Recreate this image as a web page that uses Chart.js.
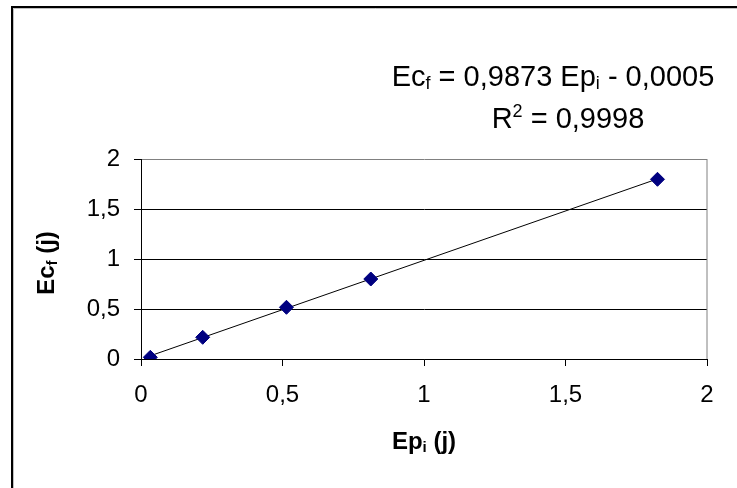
<!DOCTYPE html>
<html>
<head>
<meta charset="utf-8">
<script src="https://cdn.jsdelivr.net/npm/chart.js@4.4.0/dist/chart.umd.min.js"></script>
<style>
  html, body { margin: 0; padding: 0; background: #ffffff; }
  #wrap { position: relative; width: 737px; height: 488px; }
</style>
</head>
<body>
<div id="wrap"><canvas id="c" width="737" height="488"></canvas></div>
<script>
// ---- data ----
const epi = [0.033, 0.218, 0.514, 0.812, 1.825];   // Ep_i (j)
const ecf = [0.017, 0.217, 0.517, 0.800, 1.797];   // Ec_f (j)
const trendX = [0.033, 1.825];                     // trend line ends
const trendY = [0.032, 1.801];
const xTicks = [0, 0.5, 1, 1.5, 2];
const yTicks = [0, 0.5, 1, 1.5, 2];
const eqParts = [["Ec", ""], ["f", "sub"], [" = 0,9873 Ep", ""], ["i", "sub"], [" - 0,0005", ""]];
const r2Parts = [["R", ""], ["2", "sup"], [" = 0,9998", ""]];
const xTitleParts = [["Ep", ""], ["i", "sub"], [" (j)", ""]];
const yTitleParts = [["Ec", ""], ["f", "sub"], [" (j)", ""]];

const FONT = "'Liberation Sans', Arial, sans-serif";
const fmt = v => String(v).replace('.', ',');

function drawRich(ctx, parts, x, y, size, bold) {
  // x = center, y = baseline
  const w = bold ? 'bold ' : '';
  const pieces = parts.map(([t, kind]) => {
    const s = kind ? Math.round(size * 0.62) : size;
    ctx.font = w + s + 'px ' + FONT;
    return {t, kind, s, width: ctx.measureText(t).width};
  });
  const total = pieces.reduce((a, p) => a + p.width, 0);
  let cx = x - total / 2;
  ctx.textAlign = 'left';
  ctx.textBaseline = 'alphabetic';
  for (const p of pieces) {
    ctx.font = w + p.s + 'px ' + FONT;
    let dy = 0;
    if (p.kind === 'sub') dy = size * 0.12;
    if (p.kind === 'sup') dy = -size * 0.38;
    ctx.fillText(p.t, cx, y + dy);
    cx += p.width;
  }
}

const decor = {
  id: 'decor',
  beforeDraw(chart) {
    const ctx = chart.ctx;
    ctx.save();
    ctx.fillStyle = '#ffffff';
    ctx.fillRect(0, 0, chart.width, chart.height);
    // outer chart border (top & left visible)
    ctx.strokeStyle = '#000000';
    ctx.lineWidth = 2;
    ctx.beginPath();
    ctx.moveTo(12, chart.height);
    ctx.lineTo(12, 7);
    ctx.lineTo(chart.width, 7);
    ctx.stroke();
    ctx.strokeStyle = '#c0c0c0';
    ctx.lineWidth = 1;
    ctx.beginPath();
    ctx.moveTo(13.5, chart.height);
    ctx.lineTo(13.5, 8.5);
    ctx.lineTo(chart.width, 8.5);
    ctx.stroke();
    ctx.restore();
  },
  afterDatasetsDraw(chart) {
    const ctx = chart.ctx;
    const a = chart.chartArea;
    ctx.save();
    // right border of plot area
    ctx.strokeStyle = '#808080';
    ctx.lineWidth = 1;
    ctx.beginPath();
    ctx.moveTo(a.right, a.top);
    ctx.lineTo(a.right, a.bottom);
    ctx.stroke();
    ctx.fillStyle = '#000000';
    drawRich(ctx, eqParts, 553, 86, 29, false);
    drawRich(ctx, r2Parts, 568, 128, 29, false);
    drawRich(ctx, xTitleParts, (a.left + a.right) / 2, 449, 24, true);
    ctx.translate(54, (a.top + a.bottom) / 2 + 4);
    ctx.rotate(-Math.PI / 2);
    drawRich(ctx, yTitleParts, 0, 0, 24, true);
    ctx.restore();
  }
};

new Chart(document.getElementById('c'), {
  type: 'scatter',
  data: {
    datasets: [
      {
        label: 'Ec_f',
        data: epi.map((x, i) => ({x, y: ecf[i]})),
        pointStyle: 'rectRot',
        pointRadius: 7,
        pointHoverRadius: 7,
        backgroundColor: '#000080',
        borderColor: '#000080',
        borderWidth: 1,
        showLine: false,
        order: 1
      },
      {
        label: 'trend',
        data: trendX.map((x, i) => ({x, y: trendY[i]})),
        showLine: true,
        pointRadius: 0,
        borderColor: '#000000',
        borderWidth: 1,
        fill: false,
        order: 2
      }
    ]
  },
  options: {
    responsive: false,
    animation: false,
    devicePixelRatio: 1,
    layout: { padding: { left: 0, top: 159, right: 30, bottom: 0 } },
    plugins: { legend: { display: false }, tooltip: { enabled: false } },
    scales: {
      x: {
        type: 'linear',
        min: 0, max: 2,
        afterBuildTicks: s => { s.ticks = xTicks.map(v => ({value: v})); },
        afterFit: s => { s.height = 129; },
        ticks: {
          callback: v => fmt(v),
          color: '#000000',
          font: { family: FONT, size: 24 },
          padding: 15,
          maxRotation: 0
        },
        grid: { drawOnChartArea: false, drawTicks: true, tickLength: 7, color: '#000000', tickColor: '#000000' },
        border: { color: '#000000', width: 1 }
      },
      y: {
        type: 'linear',
        min: 0, max: 2,
        afterBuildTicks: s => { s.ticks = yTicks.map(v => ({value: v})); },
        afterFit: s => { s.width = 141; },
        ticks: {
          callback: v => fmt(v),
          color: '#000000',
          font: { family: FONT, size: 24 },
          padding: 14
        },
        grid: {
          drawTicks: true,
          tickLength: 7,
          color: c => (c.tick && c.tick.value === 2) ? '#808080' : '#000000',
          tickColor: '#000000',
          lineWidth: 1
        },
        border: { color: '#000000', width: 1 }
      }
    }
  },
  plugins: [decor]
});
</script>
</body>
</html>
